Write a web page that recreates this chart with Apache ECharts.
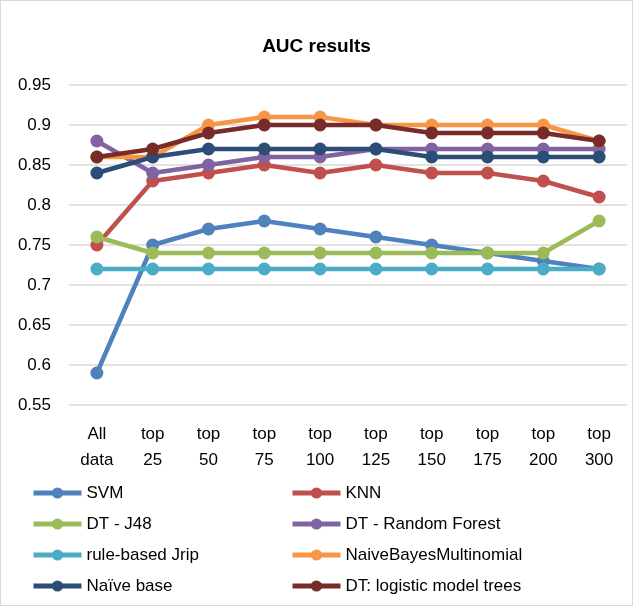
<!DOCTYPE html>
<html>
<head>
<meta charset="utf-8">
<script src="https://cdn.jsdelivr.net/npm/echarts@6/dist/echarts.min.js"></script>
<style>
html, body { margin: 0; padding: 0; background: #fff; }
#main { width: 631px; height: 604px; border: 1px solid #d9d9d9; }
</style>
</head>
<body>
<div id="main"></div>
<script>
var categories = ['All\ndata', 'top\n25', 'top\n50', 'top\n75', 'top\n100', 'top\n125', 'top\n150', 'top\n175', 'top\n200', 'top\n300'];
var yTicks = [0.55, 0.6, 0.65, 0.7, 0.75, 0.8, 0.85, 0.9, 0.95];

var svm = [0.59, 0.75, 0.77, 0.78, 0.77, 0.76, 0.75, 0.74, 0.73, 0.72];
var knn = [0.75, 0.83, 0.84, 0.85, 0.84, 0.85, 0.84, 0.84, 0.83, 0.81];
var j48 = [0.76, 0.74, 0.74, 0.74, 0.74, 0.74, 0.74, 0.74, 0.74, 0.78];
var randomForest = [0.88, 0.84, 0.85, 0.86, 0.86, 0.87, 0.87, 0.87, 0.87, 0.87];
var jrip = [0.72, 0.72, 0.72, 0.72, 0.72, 0.72, 0.72, 0.72, 0.72, 0.72];
var nbMultinomial = [0.86, 0.86, 0.90, 0.91, 0.91, 0.90, 0.90, 0.90, 0.90, 0.88];
var naiveBase = [0.84, 0.86, 0.87, 0.87, 0.87, 0.87, 0.86, 0.86, 0.86, 0.86];
var lmt = [0.86, 0.87, 0.89, 0.90, 0.90, 0.90, 0.89, 0.89, 0.89, 0.88];

var seriesNames = ['SVM', 'KNN', 'DT - J48', 'DT - Random Forest', 'rule-based Jrip',
    'NaiveBayesMultinomial', 'Naïve base', 'DT: logistic model trees'];
var seriesData = [svm, knn, j48, randomForest, jrip, nbMultinomial, naiveBase, lmt];
var colors = ['#4F81BD', '#C0504D', '#9BBB59', '#8064A2', '#4BACC6', '#F79646', '#2C4D75', '#772C2A'];

var font = 'Liberation Sans';

function legendColumn(left, names) {
    return {
        orient: 'vertical',
        left: left,
        top: 482,
        height: 120,
        padding: 0,
        itemWidth: 48,
        itemHeight: 14,
        itemGap: 11,
        lineStyle: { width: 5 },
        data: names,
        textStyle: { fontFamily: font, fontSize: 17, color: '#000', lineHeight: 20 }
    };
}

var myChart = echarts.init(document.getElementById('main'));
var option = {
    color: colors,
    animation: false,
    title: {
        text: 'AUC results',
        left: 'center',
        top: 31,
        textStyle: { fontFamily: font, fontSize: 19, fontWeight: 'bold', color: '#000' }
    },
    legend: [
        legendColumn(30, [seriesNames[0], seriesNames[2], seriesNames[4], seriesNames[6]]),
        legendColumn(289, [seriesNames[1], seriesNames[3], seriesNames[5], seriesNames[7]])
    ],
    grid: {
        left: 68,
        right: 5,
        top: 84,
        height: 320
    },
    xAxis: {
        type: 'category',
        data: categories,
        axisLine: { show: false },
        axisTick: { show: false },
        axisLabel: {
            fontFamily: font, fontSize: 17, color: '#000',
            lineHeight: 26, margin: 16
        }
    },
    yAxis: {
        type: 'value',
        min: 0.55,
        max: 0.95,
        interval: 0.05,
        axisLine: { show: false },
        axisTick: { show: false },
        splitLine: { lineStyle: { color: '#d9d9d9', width: 1.5 } },
        axisLabel: {
            fontFamily: font, fontSize: 17, color: '#000', margin: 18,
            formatter: function (v) {
                var t = yTicks.find(function (k) { return Math.abs(k - v) < 1e-6; });
                return t === undefined ? '' : String(t);
            }
        }
    },
    series: seriesNames.map(function (name, i) {
        return {
            name: name,
            type: 'line',
            data: seriesData[i],
            symbol: 'circle',
            symbolSize: 13,
            lineStyle: { width: 4.5 },
            itemStyle: { color: colors[i] },
            z: 2 + i
        };
    })
};
myChart.setOption(option);
window.onresize = myChart.resize;
</script>
</body>
</html>
